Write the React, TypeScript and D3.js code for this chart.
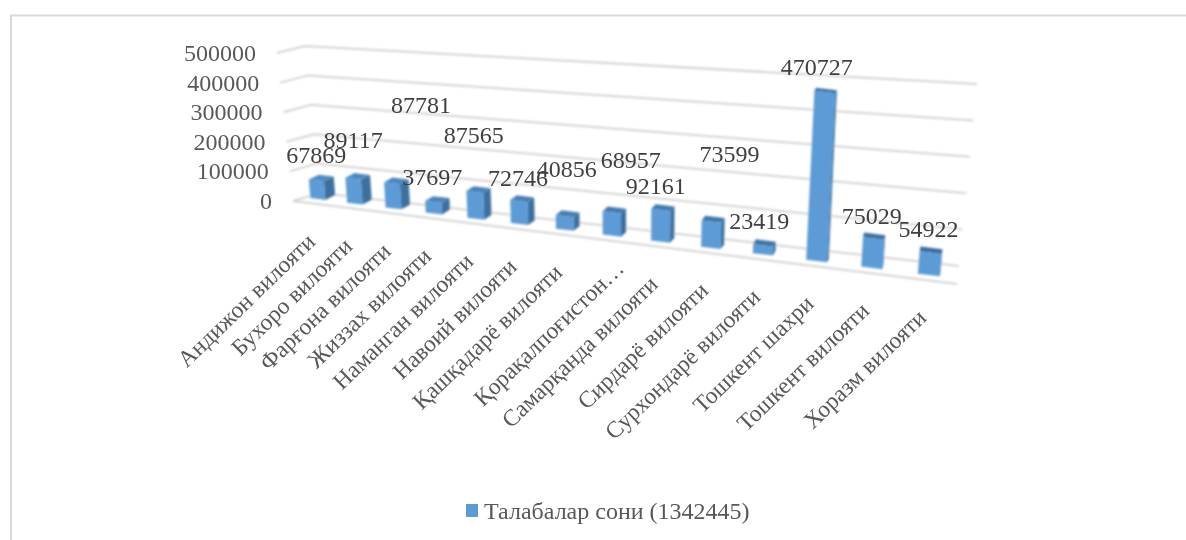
import React from "react";
import * as d3 from "d3";

const categories = ["Андижон вилояти","Бухоро вилояти","Фарғона вилояти","Жиззах вилояти","Наманган вилояти","Навоий вилояти","Қашқадарё вилояти","Қорақалпоғистон…","Самарқанда вилояти","Сирдарё вилояти","Сурхондарё вилояти","Тошкент шахри","Тошкент вилояти","Хоразм вилояти"];
const values = [67869,89117,87781,37697,87565,72746,40856,68957,92161,73599,23419,470727,75029,54922];
const ticks = [0,100000,200000,300000,400000,500000];
const legendLabel = "Талабалар сони (1342445)";

// hand-placed data-label nudges of the original, relative to each bar's top
const labelDx = [0,0,29,-1,-1,-1,2,19,-5,18,-4,-8,-2,-2];
const labelDy = [-17,-31,-70,-17,-49,-15,-39,-44,-16,-60,-16,-17,-15,-16];

const W = 1186, H = 540;
const FONT = "'Liberation Serif','Times New Roman',serif";

const val = (r: [number, number]) => d3.scaleLinear().domain([0, 500000]).range(r);
const frontLeftX = val([293, 277]), frontLeftY = val([201, 53]);
const backLeftX = val([320, 305]), backLeftY = val([193, 46]);
const backRightX = val([959, 977]), backRightY = val([266, 84]);
const floorFrontRight: [number, number] = [957, 284];

// perspective spread of the categories
const catX = d3.scalePow().exponent(2).domain([21.2, 35.2]).range([300, 958]);
const xOf = (i: number) => catX(i + 21.7);
const baseY = d3.scaleLinear().domain([318, 929]).range([199, 275]);
const pxPer100k = d3.scaleLinear().domain([318, 929]).range([27, 40]);
const barW = d3.scaleLinear().domain([318, 929]).range([15, 22]);
const heightPow = d3.scalePow().exponent(0.97).domain([0, 100000]).range([0, 1]);
const topColor = d3.scaleLinear<string>().domain([318, 929]).range(["#4f8ac2", "#3a6c9c"]);

const poly = d3.line();
type P = [number, number];

export default function App() {
  const bars = values.map((v, i) => {
    const x = xOf(i);
    const b = baseY(x);
    const h = pxPer100k(x) * heightPow(v);
    const w = barW(x);
    const lean = h * (x - 630) * 0.00026;
    const sx = Math.max((930 - x) * 0.016, 0.8);
    const sy = 5 - h * 0.012;
    const slope = 0.12;
    const bl: P = [x - w / 2, b - (slope * w) / 2];
    const br: P = [x + w / 2, b + (slope * w) / 2];
    const tl: P = [bl[0] + lean, bl[1] - h];
    const tr: P = [br[0] + lean, br[1] - h];
    const shift = (p: P): P => [p[0] + sx, p[1] - sy];
    return { x, b, h, lean, bl, br, tl, tr, shift, i, v };
  });

  return (
    <svg width={W} height={H} viewBox={`0 0 ${W} ${H}`} style={{ position: "absolute", left: 0, top: 0, display: "block", background: "#fff" }} fontFamily={FONT}>
      <defs>
        <filter id="soft" x="-5%" y="-5%" width="110%" height="110%">
          <feGaussianBlur stdDeviation="0.8" />
        </filter>
        <filter id="softText" x="-5%" y="-5%" width="110%" height="110%">
          <feGaussianBlur stdDeviation="0.45" />
        </filter>
      </defs>
      <path d={`M11,${H} V15.5 H${W}`} fill="none" stroke="#d9d9d9" strokeWidth={2} />

      <g filter="url(#soft)">
        {ticks.map((t) => (
          <path key={t} fill="none" stroke="#d4d4d4" strokeWidth={2}
            d={poly([[frontLeftX(t), frontLeftY(t)], [backLeftX(t), backLeftY(t)], [backRightX(t), backRightY(t)]]) as string} />
        ))}
        <path fill="none" stroke="#d4d4d4" strokeWidth={2}
          d={poly([[frontLeftX(0), frontLeftY(0)], floorFrontRight]) as string} />
        {bars.map((d) => (
          <g key={d.i}>
            <path fill="#3e6f9e" d={(poly([d.br, d.shift(d.br), d.shift(d.tr), d.tr]) as string) + "Z"} />
            <path fill={topColor(d.x)} d={(poly([d.tl, d.tr, d.shift(d.tr), d.shift(d.tl)]) as string) + "Z"} />
            <path fill="#5b9bd5" d={(poly([d.bl, d.br, d.tr, d.tl]) as string) + "Z"} />
          </g>
        ))}
      </g>

      <g filter="url(#softText)">
        {ticks.map((t) => (
          <text key={t} x={frontLeftX(t) - 21} y={frontLeftY(t) + 8} textAnchor="end" fontSize={24} fill="#595959">{t}</text>
        ))}
        {bars.map((d) => (
          <text key={d.i} x={d.x + d.lean + labelDx[d.i]} y={d.b - d.h + labelDy[d.i]} textAnchor="middle" fontSize={24} fill="#404040">{d.v}</text>
        ))}
        {bars.map((d) => {
          const wrap = d.i === 7;
          const ex = d.x - 7 + (wrap ? 15 : 0);
          const ey = d.b + 38.5 + (wrap ? -10 : 0);
          return (
            <text key={d.i} transform={`translate(${ex},${ey}) rotate(-44)`} textAnchor="end" dominantBaseline="central" fontSize={23.5} fill="#595959">{categories[d.i]}</text>
          );
        })}
        <rect x={466} y={504} width={12} height={13} fill="#5b9bd5" />
        <text x={484} y={519} fontSize={24} fill="#595959">{legendLabel}</text>
      </g>
    </svg>
  );
}
